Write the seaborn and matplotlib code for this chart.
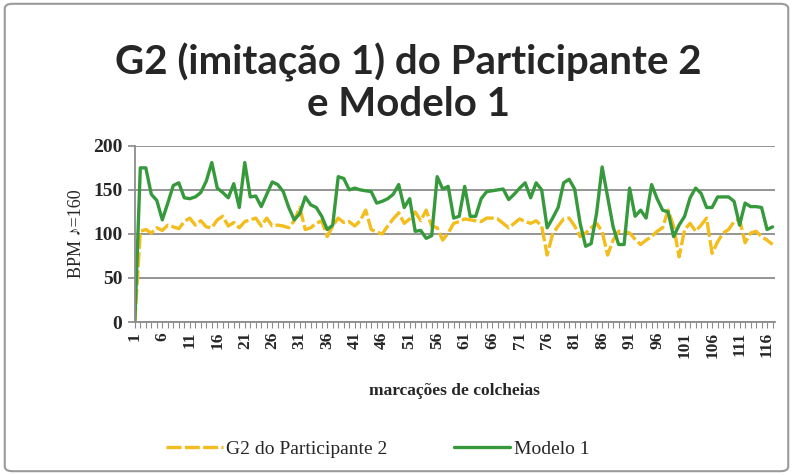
import matplotlib
matplotlib.use("Agg")
import matplotlib.pyplot as plt
import numpy as np
import pandas as pd
import seaborn as sns
from matplotlib.patches import FancyBboxPatch

# eighth-note markings 1..117
marks = list(range(1, 118))

participante = [
    0, 103, 105, 101, 107, 104, 110, 108, 106, 114,
    118, 110, 115, 108, 107, 116, 120, 109, 113, 107,
    114, 116, 118, 109, 118, 109, 110, 109, 107, 115,
    130, 105, 107, 112, 115, 97, 109, 118, 113, 114,
    109, 115, 127, 105, 102, 100, 109, 117, 124, 112,
    117, 125, 115, 127, 109, 107, 93, 101, 112, 114,
    117, 116, 115, 114, 118, 118, 117, 112, 107, 112,
    117, 114, 112, 115, 109, 76, 100, 109, 117, 118,
    109, 97, 101, 107, 112, 103, 76, 93, 103, 103,
    101, 94, 88, 93, 97, 103, 107, 127, 109, 74,
    105, 112, 103, 110, 118, 78, 91, 101, 105, 114,
    117, 90, 101, 103, 97, 93, 88,
]

modelo = [
    0, 175, 175, 145, 138, 116, 135, 155, 158, 141,
    140, 142, 147, 160, 181, 152, 147, 141, 157, 130,
    181, 142, 143, 131, 145, 159, 156, 148, 130, 116,
    123, 142, 133, 130, 120, 105, 110, 165, 163, 150,
    152, 150, 149, 148, 135, 137, 140, 145, 156, 130,
    140, 103, 104, 95, 98, 165, 151, 154, 118, 120,
    154, 120, 120, 140, 148, 149, 150, 151, 139, 145,
    152, 158, 141, 158, 150, 107, 118, 130, 158, 162,
    151, 112, 86, 89, 124, 176, 142, 108, 88, 88,
    152, 120, 127, 118, 156, 140, 127, 125, 97, 110,
    120, 141, 152, 146, 130, 130, 142, 142, 142, 137,
    110, 135, 131, 131, 130, 105, 108,
]

tick_marks = marks[::5]

df = pd.DataFrame({"marca": marks, "G2 do Participante 2": participante, "Modelo 1": modelo})

sns.set_theme(style="white")
plt.rcParams["font.family"] = ["Liberation Serif", "DejaVu Sans"]

fig = plt.figure(figsize=(7.93, 4.75), dpi=100)
ax = fig.add_axes([0.170, 0.322, 0.807, 0.371])

yellow = "#F2BD1D"
green = "#369A3C"

sns.lineplot(data=df, x="marca", y="G2 do Participante 2", ax=ax, color=yellow,
             linewidth=2.4, label="G2 do Participante 2")
ax.lines[-1].set_dashes((4.5, 1.0))
sns.lineplot(data=df, x="marca", y="Modelo 1", ax=ax, color=green,
             linewidth=2.4, label="Modelo 1")

ax.set_xlim(1, 117.4)
ax.set_ylim(0, 200)
ax.set_yticks([0, 50, 100, 150, 200])
ax.set_xticks(tick_marks)
ax.set_xticks(marks, minor=True)
ax.set_xticklabels([str(t) for t in tick_marks], rotation=90, fontsize=12.5, fontweight="bold")
for lab in ax.get_yticklabels():
    lab.set_fontsize(14)
    lab.set_fontweight("bold")

ax.grid(axis="y", color="#8c8c8c", linewidth=1.3)
ax.set_axisbelow(True)
for s in ["top", "right"]:
    ax.spines[s].set_visible(False)
for s in ["left", "bottom"]:
    ax.spines[s].set_color("#8c8c8c")
    ax.spines[s].set_linewidth(1.3)
ax.tick_params(axis="y", which="major", left=True, length=5, color="#8c8c8c", pad=4)
ax.tick_params(axis="x", which="both", bottom=True, length=4, color="#8c8c8c", width=0.8, pad=3)

ax.set_xlabel("marcações de colcheias", fontsize=12.5, fontweight="bold", labelpad=18)
ax.set_ylabel("BPM ♪=160", fontsize=13, labelpad=6)

fig.text(0.515, 0.825, "G2 (imitação 1) do Participante 2\ne Modelo 1", ha="center", va="center",
         fontsize=29, fontweight="bold", family=["Lato", "DejaVu Sans"], linespacing=1.15)

ax.legend(loc="center", bbox_to_anchor=(0.38, -0.72), ncol=2, frameon=False,
          fontsize=14, handlelength=2.9, columnspacing=3.4, handletextpad=0.2)

fig.patches.append(FancyBboxPatch((0.006, 0.008), 0.988, 0.984, boxstyle="round,pad=0,rounding_size=0.01",
                                  transform=fig.transFigure, fill=False, edgecolor="#9a9a9a", linewidth=1.5))

fig.savefig("out.png", dpi=100)
